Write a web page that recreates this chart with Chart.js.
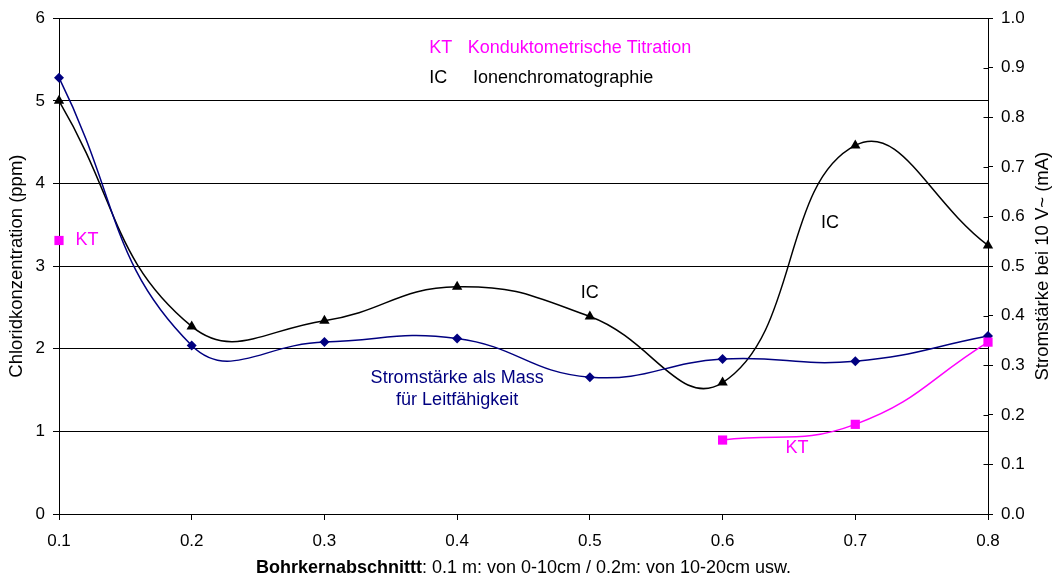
<!DOCTYPE html>
<html>
<head>
<meta charset="utf-8">
<script src="https://cdn.jsdelivr.net/npm/chart.js@4/dist/chart.umd.min.js"></script>
<style>
  html, body { margin: 0; padding: 0; background: #fff; }
  #wrap { width: 1056px; height: 579px; position: relative; }
</style>
</head>
<body>
<div id="wrap"><canvas id="c"></canvas></div>
<script>
// Bohrkernabschnitt (m)
const sections = [0.1, 0.2, 0.3, 0.4, 0.5, 0.6, 0.7, 0.8];
// Chloridkonzentration (ppm), Ionenchromatographie
const chlorideIC = [5.0, 2.27, 2.34, 2.75, 2.39, 1.59, 4.46, 3.25];
// Chloridkonzentration (ppm), Konduktometrische Titration
const chlorideKT = [3.31, null, null, null, null, 0.895, 1.085, 2.08];
// Stromstärke bei 10 V~ (mA)
const currentMA = [0.880, 0.340, 0.347, 0.354, 0.276, 0.3125, 0.308, 0.359];

const leftTicks = [0, 1, 2, 3, 4, 5, 6];
const rightTicks = [0, 0.1, 0.2, 0.3, 0.4, 0.5, 0.6, 0.7, 0.8, 0.9, 1.0];

const leftTitle = 'Chloridkonzentration (ppm)';
const rightTitle = 'Stromstärke bei 10 V~ (mA)';
const xTitleBold = 'Bohrkernabschnittt';
const xTitleRest = ': 0.1 m: von 0-10cm / 0.2m: von 10-20cm usw.';

const FONT = '"Liberation Sans", Arial, sans-serif';
const NAVY = '#000080';
const MAGENTA = '#ff00ff';

// in-plot text labels, placed in data coordinates (left axis)
const notes = [
  { text: 'KT', color: MAGENTA, x: 0.379, y: 5.64, align: 'left' },
  { text: 'Konduktometrische Titration', color: MAGENTA, x: 0.408, y: 5.64, align: 'left' },
  { text: 'IC', color: '#000', x: 0.379, y: 5.27, align: 'left' },
  { text: 'Ionenchromatographie', color: '#000', x: 0.412, y: 5.27, align: 'left' },
  { text: 'KT', color: MAGENTA, x: 0.1125, y: 3.31, align: 'left' },
  { text: 'IC', color: '#000', x: 0.5, y: 2.67, align: 'center' },
  { text: 'IC', color: '#000', x: 0.681, y: 3.52, align: 'center' },
  { text: 'Stromstärke als Mass', color: NAVY, x: 0.4, y: 1.645, align: 'center' },
  { text: 'für Leitfähigkeit', color: NAVY, x: 0.4, y: 1.38, align: 'center' },
  { text: 'KT', color: MAGENTA, x: 0.656, y: 0.80, align: 'center' }
];

const toXY = (ys) => sections.map((x, i) => ({ x: x, y: ys[i] }));

const notesPlugin = {
  id: 'notes',
  afterDatasetsDraw(chart) {
    const { ctx, scales } = chart;
    ctx.save();
    ctx.font = '18px ' + FONT;
    ctx.textBaseline = 'middle';
    notes.forEach(n => {
      ctx.fillStyle = n.color;
      ctx.textAlign = n.align;
      ctx.fillText(n.text, scales.x.getPixelForValue(n.x), scales.y.getPixelForValue(n.y));
    });
    ctx.restore();
  }
};

// right axis tick marks cross the axis line; draw the inner half
const innerTicksPlugin = {
  id: 'innerTicks',
  afterDraw(chart) {
    const { ctx, scales } = chart;
    const ax = Math.round(scales.y2.left) + 0.5;
    ctx.save();
    ctx.strokeStyle = '#000';
    ctx.lineWidth = 1;
    ctx.beginPath();
    rightTicks.forEach(v => {
      const py = Math.round(scales.y2.getPixelForValue(v)) + 0.5;
      ctx.moveTo(ax - 5, py);
      ctx.lineTo(ax, py);
    });
    ctx.stroke();
    ctx.restore();
  }
};

// axis titles: both vertical titles read bottom-to-top; x title has a bold lead term
const titlesPlugin = {
  id: 'titles',
  afterDraw(chart) {
    const { ctx, chartArea } = chart;
    const midY = (chartArea.top + chartArea.bottom) / 2;
    ctx.save();
    ctx.fillStyle = '#000';
    ctx.textAlign = 'center';
    ctx.textBaseline = 'middle';
    ctx.font = '18.5px ' + FONT;
    [[17, leftTitle], [1043, rightTitle]].forEach(([x, t]) => {
      ctx.save();
      ctx.translate(x, midY);
      ctx.rotate(-Math.PI / 2);
      ctx.fillText(t, 0, 0);
      ctx.restore();
    });

    ctx.textAlign = 'left';
    ctx.font = 'bold 18px ' + FONT;
    const wb = ctx.measureText(xTitleBold).width;
    ctx.font = '18px ' + FONT;
    const wr = ctx.measureText(xTitleRest).width;
    const cx = (chartArea.left + chartArea.right) / 2;
    const x0 = cx - (wb + wr) / 2;
    const y = 568;
    ctx.font = 'bold 18px ' + FONT;
    ctx.fillText(xTitleBold, x0, y);
    ctx.font = '18px ' + FONT;
    ctx.fillText(xTitleRest, x0 + wb, y);
    ctx.restore();
  }
};

new Chart(document.getElementById('c'), {
  type: 'line',
  data: {
    datasets: [
      {
        label: 'KT',
        data: toXY(chlorideKT),
        yAxisID: 'y',
        borderColor: MAGENTA,
        backgroundColor: MAGENTA,
        borderWidth: 1.5,
        pointStyle: 'rect',
        pointRadius: 6.5,
        pointBorderWidth: 0,
        spanGaps: false,
        tension: 0.45,
        clip: false
      },
      {
        label: 'Stromstärke',
        data: toXY(currentMA),
        yAxisID: 'y2',
        borderColor: NAVY,
        backgroundColor: NAVY,
        borderWidth: 1.5,
        pointStyle: 'rectRot',
        pointRadius: 5,
        pointBorderWidth: 0,
        tension: 0.45,
        clip: false
      },
      {
        label: 'IC',
        data: toXY(chlorideIC),
        yAxisID: 'y',
        borderColor: '#000',
        backgroundColor: '#000',
        borderWidth: 1.5,
        pointStyle: 'triangle',
        pointRadius: 6,
        pointBorderWidth: 0,
        tension: 0.45,
        clip: false
      }
    ]
  },
  options: {
    responsive: true,
    maintainAspectRatio: false,
    animation: false,
    devicePixelRatio: 1,
    layout: { padding: { top: 18, left: 0, right: 0, bottom: 0 } },
    plugins: {
      legend: { display: false },
      tooltip: { enabled: false }
    },
    scales: {
      x: {
        type: 'linear',
        min: 0.1,
        max: 0.8,
        afterBuildTicks: (s) => { s.ticks = sections.map(v => ({ value: v })); },
        afterFit: (s) => { s.height = 65; },
        ticks: {
          callback: (v) => Number(v).toFixed(1),
          color: '#000',
          font: { family: FONT, size: 17 },
          padding: 11,
          maxRotation: 0,
          autoSkip: false
        },
        grid: { drawOnChartArea: false, drawTicks: true, tickLength: 6, color: '#000' },
        border: { display: true, color: '#000', width: 1 }
      },
      y: {
        position: 'left',
        min: 0,
        max: 6,
        afterBuildTicks: (s) => { s.ticks = leftTicks.map(v => ({ value: v })); },
        afterFit: (s) => { s.width = 59; },
        ticks: {
          color: '#000',
          font: { family: FONT, size: 17 },
          padding: 8
        },
        grid: { color: '#000', lineWidth: 1, tickLength: 6 },
        border: { display: true, color: '#000', width: 1 }
      },
      y2: {
        position: 'right',
        min: 0,
        max: 1,
        afterBuildTicks: (s) => { s.ticks = rightTicks.map(v => ({ value: v })); },
        afterFit: (s) => { s.width = 68; },
        ticks: {
          callback: (v) => Number(v).toFixed(1),
          color: '#000',
          font: { family: FONT, size: 17 },
          padding: 8
        },
        grid: { drawOnChartArea: false, color: '#000', tickLength: 5 },
        border: { display: true, color: '#000', width: 1 }
      }
    }
  },
  plugins: [notesPlugin, innerTicksPlugin, titlesPlugin]
});
</script>
</body>
</html>
